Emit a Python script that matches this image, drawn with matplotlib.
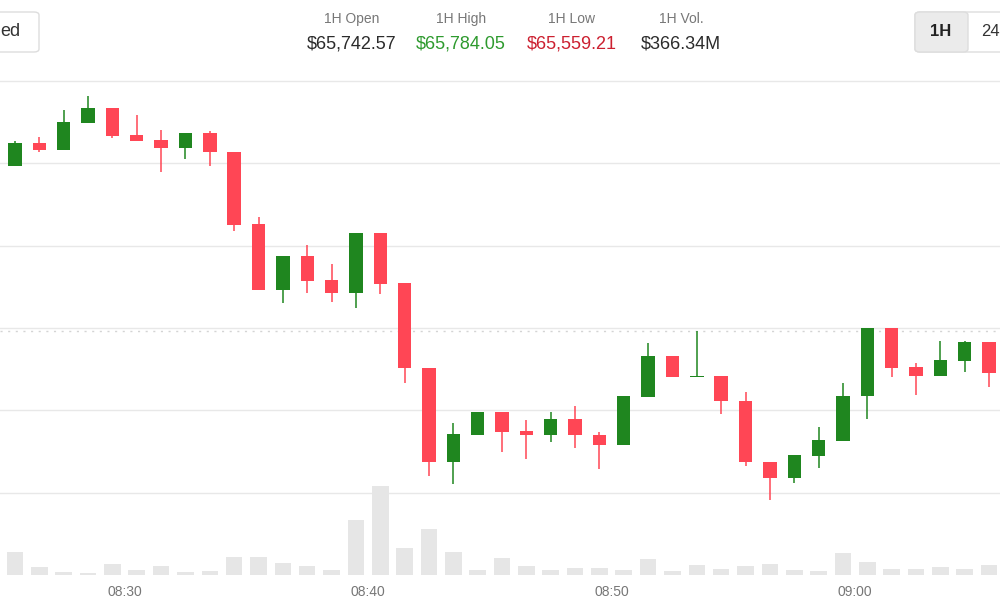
import numpy as np
import matplotlib
matplotlib.use("Agg")
from matplotlib import pyplot as plt
from matplotlib.patches import FancyBboxPatch

# one-minute candles, time = minutes after 08:00 (centre of the minute)
times = [25.5 + i for i in range(41)]

opens = [65748.0, 65762.5, 65758.1, 65774.6, 65783.7, 65766.9, 65764.2, 65759.5, 65768.4, 65756.9,
         65713.1, 65672.8, 65693.6, 65679.0, 65671.4, 65707.9, 65677.2, 65625.8, 65568.9, 65585.1,
         65598.7, 65587.3, 65584.7, 65594.8, 65585.1, 65579.0, 65608.2, 65632.9, 65620.4, 65621.0,
         65605.8, 65568.5, 65559.1, 65572.1, 65581.6, 65608.4, 65650.0, 65626.4, 65621.0, 65630.2,
         65641.4]
closes = [65762.5, 65758.1, 65775.0, 65783.7, 65766.6, 65763.7, 65759.5, 65768.4, 65756.5, 65712.7,
          65672.8, 65693.6, 65678.6, 65671.4, 65707.9, 65676.8, 65625.4, 65568.9, 65585.3, 65598.7,
          65586.6, 65584.7, 65594.8, 65584.7, 65579.0, 65608.4, 65632.9, 65620.4, 65621.0, 65605.4,
          65568.5, 65559.1, 65572.6, 65582.2, 65608.9, 65650.0, 65625.6, 65621.0, 65630.6, 65641.4,
          65622.8]
highs = [65763.7, 65765.6, 65782.3, 65790.8, 65783.7, 65779.5, 65770.2, 65768.4, 65769.4, 65756.9,
         65717.3, 65693.6, 65700.6, 65688.5, 65707.9, 65707.9, 65677.2, 65625.8, 65592.1, 65598.7,
         65598.7, 65594.3, 65599.2, 65602.4, 65586.6, 65608.4, 65640.7, 65632.9, 65648.0, 65621.0,
         65610.8, 65568.5, 65572.6, 65589.7, 65616.3, 65650.0, 65650.0, 65629.0, 65642.1, 65642.1,
         65641.4]
lows = [65748.0, 65756.7, 65758.1, 65774.6, 65765.1, 65763.7, 65744.8, 65752.7, 65748.4, 65708.9,
        65672.8, 65665.3, 65671.0, 65665.7, 65662.1, 65670.4, 65616.3, 65560.4, 65555.0, 65585.1,
        65574.4, 65570.6, 65581.0, 65577.0, 65564.5, 65579.0, 65608.2, 65620.4, 65620.4, 65597.8,
        65565.9, 65545.3, 65556.0, 65564.9, 65581.6, 65594.7, 65620.4, 65609.3, 65621.0, 65623.3,
        65614.3]
# volume per minute, $M
volumes = [11.7, 3.9, 1.5, 1.2, 5.5, 2.5, 4.7, 1.4, 1.9, 9.2,
           8.9, 6.2, 4.4, 2.5, 27.7, 44.7, 13.5, 22.9, 11.4, 2.5,
           8.4, 4.7, 2.5, 3.7, 3.5, 2.5, 8.0, 2.0, 4.9, 3.0,
           4.4, 5.7, 2.5, 2.2, 11.0, 6.4, 3.2, 3.0, 4.0, 3.2,
           4.9]

tick_pos = [30, 40, 50, 60]
tick_labels = ['08:30', '08:40', '08:50', '09:00']

stats_labels = ['1H Open', '1H High', '1H Low', '1H Vol.']
stats_values = ['$65,742.57', '$65,784.05', '$65,559.21', '$366.34M']

UP = '#1f861f'
DOWN = '#ff4655'
GRID = '#e8e8e8'

plt.rcParams['font.family'] = ['Liberation Sans', 'DejaVu Sans']

fig = plt.figure(figsize=(10, 6), dpi=100)
ax = fig.add_axes([0, 25 / 600, 1, 495 / 600])

ax.set_xlim(24.884, 65.95)
ax.set_ylim(65500, 65800.5)

# grid
for p in np.arange(65550, 65801, 50):
    ax.axhline(p, color=GRID, lw=1.0, zorder=0, clip_on=False)
ax.axhline(65648.3, color='#d4d4d4', lw=1.0, ls=(0, (1.5, 4)), zorder=0)

# candles
for t, o, h, l, c in zip(times, opens, highs, lows, closes):
    col = UP if c >= o else DOWN
    ax.vlines(t, l, h, color=col, lw=1.1, zorder=2)
    ax.bar(t, max(abs(c - o), 0.7), bottom=min(o, c), width=0.55,
           color=col, zorder=3, linewidth=0)

ax.set_xticks(tick_pos)
ax.set_xticklabels(tick_labels)
ax.tick_params(axis='x', length=0, pad=7, labelsize=10, labelcolor='#777777')
ax.set_yticks([])
for s in ax.spines.values():
    s.set_visible(False)

# volume
ax2 = ax.twinx()
ax2.set_ylim(0, 247.5)
ax2.bar(times, volumes, width=0.68, color='#e6e6e6', zorder=1, linewidth=0)
ax2.set_yticks([])
for s in ax2.spines.values():
    s.set_visible(False)

# header stats
xs = [352, 461, 571.5, 681]
val_colors = ['#2b2b2b', '#2e9a2e', '#cc2030', '#2b2b2b']
for x, lab, val, vc in zip(xs, stats_labels, stats_values, val_colors):
    fig.text(x / 1000, 1 - 19 / 600, lab, ha='center', va='center',
             fontsize=10, color='#777777')
    fig.text(x / 1000, 1 - 44 / 600, val, ha='center', va='center',
             fontsize=13, color=vc)

# left button (cut off)
fig.patches.append(FancyBboxPatch((-0.05, 1 - 52 / 600), 0.089, 40 / 600,
                                  boxstyle='round,pad=0,rounding_size=0.005',
                                  transform=fig.transFigure, fc='white',
                                  ec='#dddddd', lw=1))
fig.text(0.0, 1 - 31 / 600, 'ed', ha='left', va='center', fontsize=13,
         color='#333333')

# right range selector (cut off)
fig.patches.append(FancyBboxPatch((0.915, 1 - 52 / 600), 0.1, 40 / 600,
                                  boxstyle='round,pad=0,rounding_size=0.005',
                                  transform=fig.transFigure, fc='white',
                                  ec='#dddddd', lw=1))
fig.patches.append(FancyBboxPatch((0.915, 1 - 52 / 600), 0.053, 40 / 600,
                                  boxstyle='round,pad=0,rounding_size=0.005',
                                  transform=fig.transFigure, fc='#ebebeb',
                                  ec='#dddddd', lw=1))
fig.text(0.941, 1 - 31 / 600, '1H', ha='center', va='center', fontsize=12,
         color='#222222', fontweight='bold')
fig.text(0.981, 1 - 31 / 600, '24', ha='left', va='center', fontsize=12,
         color='#333333')

fig.savefig('out.png', dpi=100, facecolor='white')
